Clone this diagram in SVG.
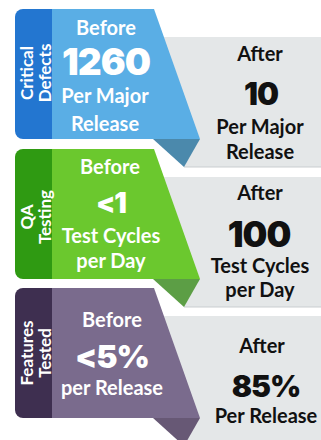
<svg xmlns="http://www.w3.org/2000/svg" width="321" height="440" viewBox="0 0 321 440">
<style>
.t{font-family:Lato,"Liberation Sans",sans-serif;font-weight:700;text-anchor:middle}
.w{fill:#fff}
.k{fill:#111}
.s{font-size:20px}
.tab{font-family:Lato,"Liberation Sans",sans-serif;font-weight:700;font-size:17px;fill:#fff;text-anchor:middle}
.n{font-family:Inter,Lato,"Liberation Sans",sans-serif;font-weight:900;text-anchor:middle;letter-spacing:-1px}
.gray{fill:#E4E7E8}
.gline{fill:none;stroke:#C9CDD0;stroke-width:1}
</style>
<g id="panel-critical-defects">
<path class="gray" d="M160,37H321V167H184Z"/>
<path class="gline" d="M184,167H321"/>
<path fill="#5AAEE5" d="M52,9H154L200,139H52Z"/>
<path fill="#2376D0" d="M52,9H23A8,8 0 0 0 15,17V131A8,8 0 0 0 23,139H52Z"/>
<path fill="#4B89AC" d="M153,139H200L184,167Z"/>
<text class="tab" transform="translate(33,73) rotate(-90)">Critical</text>
<text class="tab" transform="translate(51,73) rotate(-90)">Defects</text>
<text class="t w s" x="106" y="35">Before</text>
<text class="n w" x="106" y="75" font-size="37">1260</text>
<text class="t w s" x="105" y="103">Per Major</text>
<text class="t w s" x="105" y="131">Release</text>
<text class="t k s" x="260" y="61">After</text>
<text class="n k" x="261" y="105" font-size="31">10</text>
<text class="t k s" x="260" y="134">Per Major</text>
<text class="t k s" x="260" y="159">Release</text>
</g>
<g id="panel-qa-testing" transform="translate(0,140)">
<path class="gray" d="M160,37H321V167H184Z"/>
<path class="gline" d="M184,167H321"/>
<path fill="#6BC82E" d="M52,9H154L200,139H52Z"/>
<path fill="#2F9A12" d="M52,9H23A8,8 0 0 0 15,17V131A8,8 0 0 0 23,139H52Z"/>
<path fill="#5C9E45" d="M153,139H200L184,167Z"/>
<text class="tab" transform="translate(33,77) rotate(-90)">QA</text>
<text class="tab" transform="translate(51,77) rotate(-90)">Testing</text>
<text class="t w s" x="110" y="34">Before</text>
<text class="n w" x="111" y="73" font-size="28">&lt;1</text>
<text class="t w s" x="111" y="103">Test Cycles</text>
<text class="t w s" x="111" y="128">per Day</text>
<text class="t k s" x="260" y="60">After</text>
<text class="n k" x="259" y="107" font-size="35">100</text>
<text class="t k s" x="260" y="133">Test Cycles</text>
<text class="t k s" x="260" y="157">per Day</text>
</g>
<g id="panel-features-tested" transform="translate(0,279)">
<path class="gray" d="M160,37H321V167H184Z"/>
<path fill="#7A6B8D" d="M52,9H154L200,139H52Z"/>
<path fill="#3E2F50" d="M52,9H23A8,8 0 0 0 15,17V131A8,8 0 0 0 23,139H52Z"/>
<path fill="#675875" d="M153,139H200L184,167Z"/>
<text class="tab" transform="translate(33,74) rotate(-90)">Features</text>
<text class="tab" transform="translate(51,74) rotate(-90)">Tested</text>
<text class="t w s" x="112" y="48">Before</text>
<text class="n w" x="112" y="89" font-size="32">&lt;5%</text>
<text class="t w s" x="112" y="116">per Release</text>
<text class="t k s" x="262" y="74">After</text>
<text class="n k" x="266" y="118" font-size="30">85%</text>
<text class="t k s" x="266" y="144">Per Release</text>
</g>
</svg>
